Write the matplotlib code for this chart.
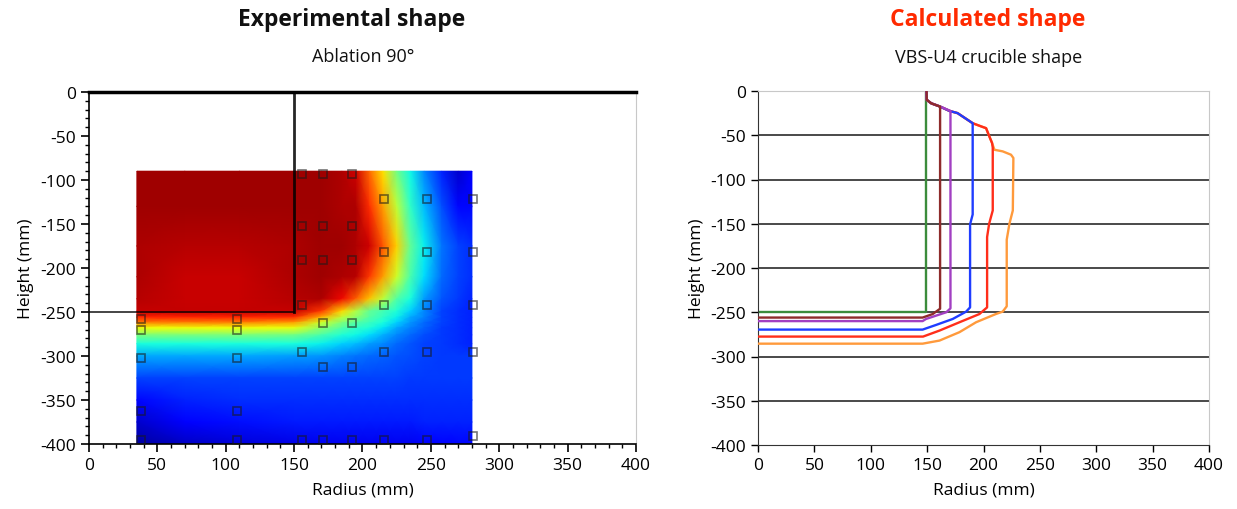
import matplotlib
matplotlib.use('Agg')
import matplotlib.pyplot as plt
from matplotlib.ticker import MultipleLocator

plt.rcParams['font.family'] = ['Open Sans', 'DejaVu Sans']
plt.rcParams['axes.unicode_minus'] = False

W, H = 1237, 510

# ---------------- Left panel: experimental temperature field (normalised 0..1, jet) -------------
grid_r = [35, 70, 110, 150, 170, 185, 195, 205, 215, 225, 235, 245, 258, 270, 280]
grid_z = [-90, -130, -175, -210, -235, -249, -256, -262, -268, -276, -286, -300, -325, -350, -375, -400]
field = [
    [.97, .97, .97, .97, .97, .96, .93, .80, .67, .49, .37, .26, .16, .07, .12],
    [.97, .97, .97, .97, .97, .96, .96, .86, .74, .58, .41, .31, .20, .13, .13],
    [.96, .95, .95, .96, .97, .97, .96, .93, .82, .69, .47, .36, .24, .19, .17],
    [.96, .935, .935, .96, .97, .96, .95, .85, .74, .60, .44, .34, .23, .19, .17],
    [.95, .935, .935, .95, .96, .90, .81, .70, .58, .45, .38, .28, .21, .18, .16],
    [.94, .94, .94, .94, .85, .68, .57, .47, .43, .39, .33, .26, .19, .17, .16],
    [.87, .87, .87, .86, .72, .58, .52, .45, .41, .36, .29, .25, .19, .17, .16],
    [.77, .77, .77, .74, .60, .50, .45, .42, .38, .33, .27, .23, .19, .17, .16],
    [.64, .64, .64, .63, .52, .45, .41, .39, .35, .29, .25, .22, .18, .17, .16],
    [.50, .50, .50, .49, .44, .39, .37, .34, .30, .26, .23, .20, .18, .17, .16],
    [.38, .38, .38, .38, .36, .33, .31, .28, .26, .23, .21, .19, .18, .17, .16],
    [.29, .29, .29, .28, .27, .25, .24, .23, .22, .21, .20, .19, .18, .18, .18],
    [.19, .19, .19, .19, .19, .19, .19, .19, .19, .19, .18, .18, .18, .18, .18],
    [.13, .16, .17, .17, .17, .17, .17, .17, .17, .17, .17, .17, .17, .17, .17],
    [.07, .12, .14, .15, .15, .15, .15, .15, .15, .15, .15, .16, .16, .16, .16],
    [.03, .06, .08, .09, .10, .10, .10, .10, .10, .10, .10, .11, .12, .13, .13],
]

# thermocouple positions (mm)
tc_r = [156, 171, 192, 216, 247, 281, 156, 171, 192, 216, 247, 281, 156, 171, 192,
        156, 216, 247, 281, 38, 108, 171, 192, 38, 108, 156, 216, 247, 281, 38, 108,
        171, 192, 38, 108, 38, 108, 156, 171, 192, 216, 247, 281]
tc_z = [-93, -93, -93, -122, -122, -122, -152, -152, -152, -182, -182, -182, -191, -191, -191,
        -242, -242, -242, -242, -258, -258, -263, -263, -271, -271, -295, -295, -295, -295, -302, -302,
        -312, -312, -363, -363, -395, -395, -395, -395, -395, -395, -395, -391]

# crucible outline (initial shape)
crucible_r = [0, 150, 150]
crucible_z = [-250, -250, 0]

# ---------------- Right panel: calculated shapes -------------
green_r = [0, 149, 149]
green_z = [-250, -250, 0]
brown_r = [0, 146, 155, 161.5, 161.5, 153.6, 149.7, 149.5]
brown_z = [-256, -256, -252, -246, -17.6, -13.9, -10, 0]
purple_r = [0, 146, 149, 167, 170.7, 170.7, 161.5, 153.6, 149.7, 149.5]
purple_z = [-260, -260, -257.6, -250, -245.6, -22.5, -17.6, -13.9, -10, 0]
blue_r = [0, 146, 158, 172.7, 184.6, 188.1, 188.1, 190.4, 190.4, 177, 169.8, 161.5, 153.6, 149.7, 149.5]
blue_z = [-269.6, -269.6, -264.3, -257.6, -249.3, -244.5, -150.7, -139.5, -36.4, -25, -22.5, -17.6, -13.9, -10, 0]
red_r = [0, 146.4, 161, 178.7, 196.4, 203.2, 203.2, 205, 208.2, 208.2, 207.6, 204.6, 202.3, 197.9,
         190.4, 177, 169.8, 161.5, 153.6, 149.7, 149.5]
red_z = [-277.5, -277.5, -270.7, -261.3, -252, -244.5, -165, -150, -135, -64, -58.8, -49.5, -42, -40,
         -36.4, -25, -22.5, -17.6, -13.9, -10, 0]
orange_r = [0, 146, 161, 178.7, 193.4, 211, 217, 220.6, 220.6, 221, 223, 226, 226.5, 224.4, 217, 209.7,
            207.6, 204.6, 202.3, 197.9, 190.4, 177, 169.8, 161.5, 153.6, 149.7, 149.5]
orange_z = [-285.5, -285.5, -282, -272.5, -261.3, -252, -249.3, -243.3, -168, -165, -150, -135, -75.7,
            -72, -68.2, -66.4, -58.8, -49.5, -42, -40, -36.4, -25, -22.5, -17.6, -13.9, -10, 0]

x_ticks = [0, 50, 100, 150, 200, 250, 300, 350, 400]
y_ticks = [0, -50, -100, -150, -200, -250, -300, -350, -400]

fig = plt.figure(figsize=(W / 100, H / 100), dpi=100)


def ax_rect(x0, y0, x1, y1):
    return [x0 / W, 1 - y1 / H, (x1 - x0) / W, (y1 - y0) / H]


TICK_FS = 12.5
LABEL_FS = 12.5

# ---- left ----
axL = fig.add_axes(ax_rect(89, 93, 636, 445))
axL.pcolormesh(grid_r, grid_z, field, shading='gouraud', cmap='jet', vmin=0, vmax=1, zorder=1)
axL.plot(crucible_r[1:], crucible_z[1:], color='black', lw=2.0, zorder=3, alpha=0.85)
axL.plot(crucible_r[:2], crucible_z[:2], color='black', lw=1.2, zorder=3, alpha=0.85)
axL.plot(tc_r, tc_z, linestyle='none', marker='s', markersize=6, markerfacecolor='none',
         markeredgecolor='#1a1a1a', markeredgewidth=1.2, alpha=0.6, zorder=4)
axL.set_xlim(0, 400)
axL.set_ylim(-400, 0)
axL.set_xticks(x_ticks)
axL.set_yticks(y_ticks)
axL.xaxis.set_minor_locator(MultipleLocator(10))
axL.yaxis.set_minor_locator(MultipleLocator(10))
axL.tick_params(axis='both', which='major', direction='out', length=6, width=1.2, labelsize=TICK_FS)
axL.tick_params(axis='both', which='minor', direction='out', length=3, width=1.0)
axL.spines['top'].set_linewidth(2.5)
axL.spines['right'].set_color('#c8c8c8')
axL.spines['left'].set_linewidth(1.2)
axL.spines['bottom'].set_linewidth(1.2)
axL.set_xlabel('Radius (mm)', fontsize=LABEL_FS, labelpad=6)
axL.set_ylabel('Height (mm)', fontsize=LABEL_FS, labelpad=4)

# ---- right ----
axR = fig.add_axes(ax_rect(758, 92, 1209, 446))
for yv in y_ticks[1:-1]:
    axR.axhline(yv, color='#3a3a3a', lw=1.3, zorder=1)
axR.plot(green_r, green_z, color='#3c8c3c', lw=1.7, zorder=2)
axR.plot(orange_r, orange_z, color='#ff9a3c', lw=1.7, zorder=3)
axR.plot(red_r, red_z, color='#ff2e1a', lw=1.7, zorder=4)
axR.plot(blue_r, blue_z, color='#1f3dff', lw=1.7, zorder=5)
axR.plot(purple_r, purple_z, color='#a23fc2', lw=1.7, zorder=6)
axR.plot(brown_r, brown_z, color='#8e2b2b', lw=1.7, zorder=7)
axR.set_xlim(0, 400)
axR.set_ylim(-400, 0)
axR.set_xticks(x_ticks)
axR.set_yticks(y_ticks)
axR.tick_params(axis='both', which='major', direction='out', length=5, width=1.0, labelsize=TICK_FS)
for s in ('top', 'right'):
    axR.spines[s].set_color('#c8c8c8')
axR.spines['left'].set_color('#333333')
axR.spines['bottom'].set_color('#333333')
axR.set_xlabel('Radius (mm)', fontsize=LABEL_FS, labelpad=6)
axR.set_ylabel('Height (mm)', fontsize=LABEL_FS, labelpad=4)

# ---- titles ----
fig.text(352 / W, 1 - 20 / H, 'Experimental shape', ha='center', va='center',
         fontsize=16.5, fontweight='bold', color='#111111')
fig.text(363 / W, 1 - 57 / H, 'Ablation 90°', ha='center', va='center', fontsize=13, color='#111111')
fig.text(988 / W, 1 - 20 / H, 'Calculated shape', ha='center', va='center',
         fontsize=16.5, fontweight='bold', color='#ff2a00')
fig.text(989 / W, 1 - 58 / H, 'VBS-U4 crucible shape', ha='center', va='center', fontsize=13, color='#111111')

fig.savefig('out.png', dpi=100)
